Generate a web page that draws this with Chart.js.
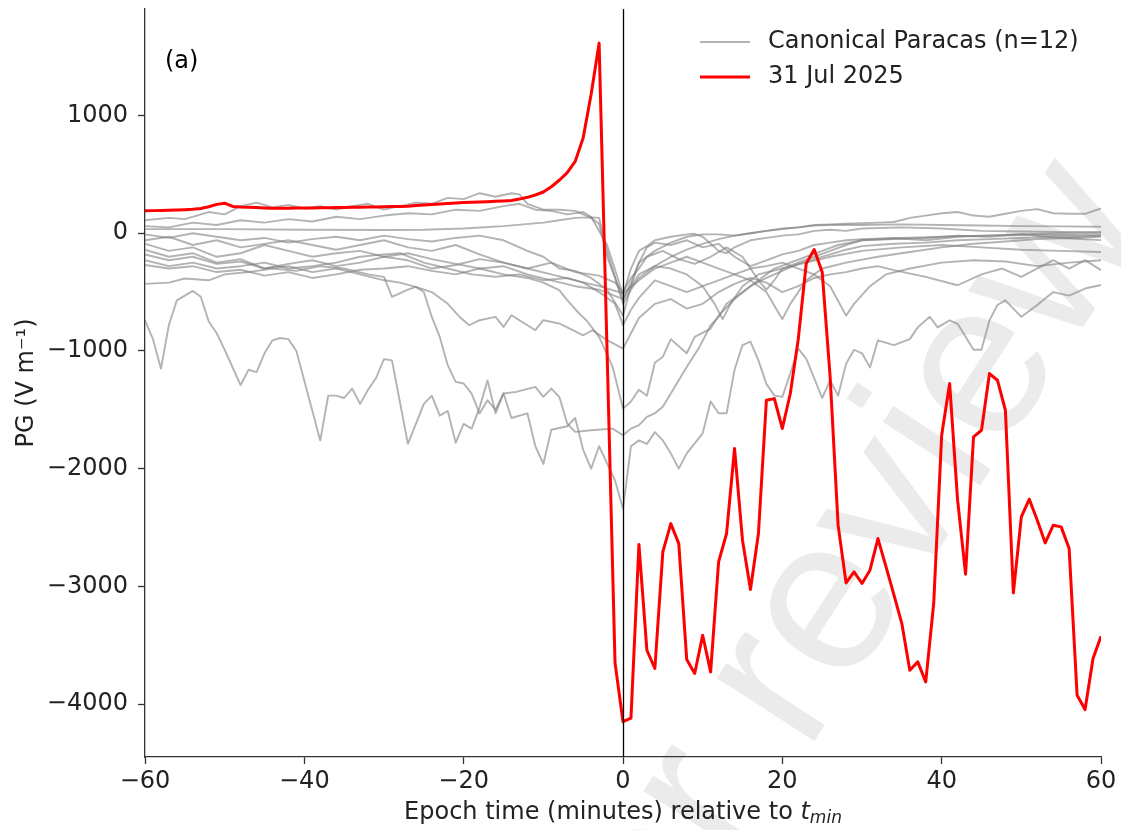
<!DOCTYPE html>
<html>
<head>
<meta charset="utf-8">
<script src="https://cdn.jsdelivr.net/npm/chart.js@4.4.1/dist/chart.umd.min.js"></script>
<style>
  html, body { margin: 0; padding: 0; background: #fff; }
  canvas { display: block; }
</style>
</head>
<body>
<canvas id="pgChart" width="1121" height="830"></canvas>
<script>
// axis ticks
const xTicks = [-60, -40, -20, 0, 20, 40, 60];
const yTicks = [-4000, -3000, -2000, -1000, 0, 1000];

// 31 Jul 2025 event, one value per minute from -60 to 60
const redTime = Array.from({ length: 121 }, (_, i) => i - 60);
const redPG = [
  190, 192, 193, 195, 198, 200, 203, 210, 225, 245,
  255, 228, 222, 220, 218, 215, 212, 212, 213, 214,
  215, 215, 216, 217, 218, 218, 220, 221, 222, 223,
  224, 226, 228, 230, 235, 240, 245, 248, 252, 256,
  260, 263, 266, 268, 271, 274, 278, 290, 305, 325,
  350, 395, 450, 515, 610, 810, 1180, 1615, -1000, -3650,
  -4150, -4120, -2645, -3543, -3698, -2708, -2467, -2637, -3622, -3741,
  -3416, -3727, -2793, -2551, -1829, -2608, -3027, -2551, -1419, -1405,
  -1659, -1362, -900, -257, -139, -329, -1221, -2480, -2971, -2877,
  -2976, -2863, -2594, -2830, -3070, -3316, -3713, -3642, -3812, -3146,
  -1716, -1277, -2268, -2897, -1730, -1674, -1192, -1249, -1504, -3056,
  -2410, -2260, -2438, -2631, -2481, -2495, -2679, -3925, -4047, -3613, -3424
];

// canonical Paracas events, [minute, PG]
const grayA = [[-60,-740],[-59,-900],[-58,-1150],[-57,-780],[-56,-570],[-54,-490],[-53,-540],[-52,-750],[-51,-850],[-50,-990],[-48,-1290],[-47,-1160],[-46,-1180],[-45,-1020],[-44,-910],[-43,-890],[-42,-900],[-41,-1000],[-38,-1760],[-37,-1380],[-36,-1380],[-35,-1400],[-34,-1320],[-33,-1450],[-32,-1330],[-31,-1230],[-30,-1070],[-29,-1080],[-27,-1790],[-25,-1450],[-24,-1380],[-23,-1550],[-22,-1510],[-21,-1780],[-20,-1620],[-19,-1660],[-18,-1480],[-17,-1250],[-16,-1530],[-15,-1360],[-14,-1570],[-12,-1530],[-11,-1810],[-10,-1960],[-9,-1670],[-7,-1640],[-6,-1570],[-5,-1840],[-4,-2000],[-3,-1810],[-1,-2100],[0,-2340],[1,-1810],[2,-1760],[3,-1790],[4,-1690],[5,-1760],[6,-1870],[7,-2000],[8,-1870],[10,-1700],[11,-1430],[12,-1530],[13,-1530],[14,-1160],[15,-950],[16,-920],[17,-1080],[18,-1280],[19,-1380],[20,-1390],[21,-1190],[22,-980],[23,-1065],[25,-1400],[26,-1250],[27,-1380],[28,-1110],[29,-990],[30,-1020],[31,-1140],[32,-910],[34,-950],[36,-900],[37,-800],[38.5,-710],[39.5,-800],[41,-740],[42,-770],[44,-990],[45,-990],[46,-740],[47,-610],[48,-570],[50,-710],[52,-610],[54,-500],[56,-530],[58,-470],[60,-440]];
const grayB = [[-60,-180],[-57,-230],[-54,-200],[-51,-260],[-48,-240],[-45,-300],[-42,-280],[-39,-330],[-36,-300],[-33,-350],[-30,-400],[-28,-420],[-26,-456],[-25,-499],[-24,-711],[-23,-881],[-22,-1121],[-21,-1263],[-20,-1277],[-19,-1362],[-18,-1532],[-17,-1420],[-16,-1500],[-15,-1362],[-13.4,-1348],[-11,-1306],[-10,-1390],[-9,-1320],[-8,-1390],[-7,-1617],[-6,-1688],[-4,-1674],[-1.3,-1660],[0,-1716],[1,-1660],[2,-1630],[3,-1560],[4,-1530],[5,-1475],[6,-1362],[8,-1136],[9.6,-966],[11,-782],[12,-711],[13,-600],[15,-500],[17,-400],[19,-300],[21,-250],[23,-200],[25,-150],[27,-100],[30,-60],[35,-40],[40,-30],[45,-20],[50,-10],[55,0],[60,0]];
const grayC = [[-60,-270],[-57,-300],[-54,-280],[-51,-330],[-48,-310],[-45,-360],[-42,-330],[-39,-380],[-36,-350],[-33,-310],[-30,-300],[-27,-280],[-24,-320],[-21,-350],[-18,-300],[-15,-350],[-12,-380],[-10,-420],[-8,-484],[-7,-569],[-5.5,-682],[-4.6,-739],[-3,-881],[-1.3,-1136],[0,-1490],[1,-1430],[2,-1330],[3,-1380],[4,-1100],[5,-1050],[6,-900],[7,-960],[8,-1020],[9,-880],[11,-810],[12,-700],[14,-560],[16,-450],[18,-380],[20,-320],[22,-260],[24,-220],[26,-180],[28,-140],[30,-110],[34,-90],[38,-80],[42,-60],[46,-50],[50,-40],[54,-30],[57,-30],[60,-20]];
const grayD = [[-60,-430],[-57,-420],[-55,-385],[-52,-400],[-50,-350],[-47,-330],[-44,-300],[-41,-320],[-38,-280],[-35,-300],[-32,-350],[-30,-371],[-29,-541],[-27,-480],[-26,-456],[-24,-500],[-22,-600],[-20.5,-711],[-19.3,-782],[-18,-739],[-16,-711],[-15,-796],[-14,-697],[-13,-739],[-11,-824],[-10,-739],[-8,-767],[-6.3,-824],[-5,-867],[-3.8,-824],[-2,-909],[0,-980],[1,-850],[2,-720],[4,-600],[6,-560],[8,-640],[10,-600],[12,-500],[14,-430],[16,-380],[18,-420],[20,-500],[22,-450],[24,-380],[26,-350],[28,-330],[30,-300],[32,-280],[34,-314],[38,-371],[42,-442],[45,-350],[47.6,-300],[50,-371],[54,-229],[56,-300],[58,-229],[60,-314]];
const grayE = [[-60,110],[-57,130],[-55,120],[-52,180],[-50,160],[-48,230],[-46,260],[-44,220],[-42,240],[-40,210],[-38,230],[-36,200],[-34,230],[-32,250],[-30,200],[-28,230],[-26,260],[-24,250],[-22,300],[-20,290],[-18,340],[-16,310],[-14,340],[-13,330],[-12,250],[-10,200],[-8,200],[-6,190],[-4,130],[-3,80],[-2,-200],[0,-560],[1,-420],[2,-250],[4,-150],[6,-80],[8,-30],[10,-10],[12,-10],[14,-20],[16,0],[18,20],[20,40],[22,50],[24,70],[26,75],[28,80],[30,85],[32,90],[34,95],[36,130],[38,150],[40,170],[42,180],[44,150],[46,140],[48,165],[50,190],[52,205],[54,170],[56,165],[58,165],[60,210]];
const grayF = [[-60,60],[-57,50],[-54,90],[-51,70],[-48,110],[-45,90],[-42,120],[-39,100],[-36,140],[-33,120],[-30,150],[-27,170],[-24,160],[-21,200],[-18,190],[-15,230],[-13,250],[-11,200],[-9,190],[-7,160],[-5,180],[-4,140],[-2,-100],[0,-520],[1,-300],[2,-150],[3,-110],[4,-60],[6,-30],[8,-10],[9,-5],[10,-30],[11,-90],[12,-150],[13,-170],[14,-120],[16,-60],[18,-40],[20,-20],[22,-10],[24,20],[26,30],[28,20],[30,40],[35,50],[40,40],[45,20],[50,15],[55,10],[60,11]];
const grayG = [[-60,35],[-50,35],[-40,30],[-30,28],[-25,30],[-20,40],[-15,60],[-10,90],[-8,110],[-6,130],[-4,135],[-3,130],[-2,-150],[0,-600],[1,-480],[2,-380],[4,-280],[6,-200],[8,-140],[10,-90],[12,-50],[14,-20],[16,0],[18,20],[20,35],[22,50],[24,65],[26,70],[28,72],[30,70],[35,75],[40,70],[45,65],[50,60],[55,58],[60,55]];
const grayH = [[-60,-10],[-57,-40],[-54,0],[-51,-30],[-48,-60],[-45,-40],[-42,-80],[-39,-50],[-36,-30],[-33,-60],[-30,-20],[-27,-50],[-24,-70],[-21,-40],[-18,-20],[-15,-60],[-12,-150],[-10,-200],[-8,-300],[-6,-320],[-4,-380],[-2,-480],[0,-700],[1,-450],[2,-250],[3,-120],[4,-80],[6,-100],[8,-60],[10,-120],[12,-90],[14,-200],[16,-280],[18,-230],[20,-180],[22,-150],[24,-100],[26,-80],[28,-60],[30,-50],[34,-40],[38,-60],[42,-30],[46,-20],[50,-10],[55,-15],[60,-17]];
const grayI = [[-60,-60],[-57,-30],[-54,-100],[-51,-60],[-48,-120],[-45,-90],[-42,-60],[-39,-100],[-36,-140],[-33,-100],[-30,-60],[-27,-120],[-24,-150],[-21,-100],[-18,-180],[-15,-250],[-12,-300],[-9,-250],[-6,-330],[-3,-360],[-1,-420],[0,-500],[1,-380],[2,-300],[3,-200],[5,-150],[7,-220],[9,-260],[11,-200],[13,-120],[15,-200],[16,-300],[17,-400],[18,-480],[19,-400],[20,-300],[22,-250],[24,-200],[26,-150],[28,-100],[30,-60],[34,-50],[38,-40],[42,-20],[46,-30],[50,-10],[55,-40],[60,-59]];
const grayJ = [[-60,-90],[-57,-150],[-54,-120],[-51,-200],[-48,-170],[-45,-100],[-42,-150],[-39,-200],[-36,-170],[-33,-150],[-30,-200],[-27,-170],[-24,-220],[-21,-260],[-18,-300],[-15,-280],[-12,-350],[-9,-400],[-6,-450],[-3,-480],[0,-560],[2,-350],[4,-280],[6,-300],[8,-350],[10,-450],[11.5,-600],[12.5,-730],[13.5,-600],[15,-450],[17,-350],[20,-300],[23,-250],[26,-200],[30,-150],[35,-120],[40,-100],[45,-120],[50,-140],[55,-150],[60,-159]];
const grayK = [[-60,-140],[-57,-200],[-54,-170],[-51,-250],[-48,-220],[-45,-300],[-42,-260],[-39,-230],[-36,-280],[-33,-250],[-30,-200],[-27,-230],[-24,-300],[-21,-270],[-18,-220],[-15,-250],[-12,-300],[-9,-350],[-6,-400],[-3,-450],[0,-510],[2,-400],[4,-300],[6,-250],[8,-200],[10,-250],[12,-300],[14,-350],[16,-400],[18,-500],[20,-730],[21,-600],[23,-400],[25,-300],[28,-250],[32,-200],[36,-160],[40,-120],[44,-90],[48,-70],[52,-50],[56,-40],[60,-30]];
const grayL = [[-60,-230],[-57,-280],[-54,-250],[-51,-300],[-48,-280],[-45,-250],[-42,-300],[-39,-280],[-36,-250],[-33,-200],[-30,-180],[-28,-170],[-25,-250],[-22,-300],[-19,-350],[-16,-370],[-13,-350],[-10,-400],[-7,-380],[-5,-420],[-3,-500],[-1,-600],[0,-780],[1,-650],[2,-550],[4,-400],[6,-450],[8,-500],[10,-450],[12,-400],[14,-350],[16,-300],[18,-280],[20,-250],[22,-300],[24,-350],[26,-450],[28,-700],[29,-600],[31,-450],[33,-350],[36,-300],[40,-250],[44,-230],[48,-240],[52,-280],[56,-250],[60,-229]];

const graySeries = [grayA, grayB, grayC, grayD, grayE, grayF, grayG, grayH, grayI, grayJ, grayK, grayL];

const FONT = "'DejaVu Sans', sans-serif";
const FS = 24;
const GRAY = 'rgba(128,128,128,0.6)';
const RED = '#ff0000';

function minusFmt(v) {
  return v < 0 ? '\u2212' + Math.abs(v) : String(v);
}

const datasets = [{
  label: '31 Jul 2025',
  data: redTime.map((t, i) => ({ x: t, y: redPG[i] })),
  borderColor: RED,
  borderWidth: 3,
  pointRadius: 0,
  tension: 0,
  borderJoinStyle: 'round',
  order: 0
}];
graySeries.forEach((s, k) => {
  datasets.push({
    label: 'Canonical Paracas ' + (k + 1),
    data: s.map(p => ({ x: p[0], y: p[1] })),
    borderColor: GRAY,
    borderWidth: 1.9,
    pointRadius: 0,
    tension: 0,
    borderJoinStyle: 'round',
    order: 1
  });
});

// background, watermark, titles, legend, zero line
const decor = {
  id: 'decor',
  beforeDraw(chart) {
    const c = chart.ctx;
    c.save();
    c.fillStyle = '#fff';
    c.fillRect(0, 0, chart.width, chart.height);
    c.translate(755, 721);
    c.rotate(-57 * Math.PI / 180);
    c.font = "220px 'Liberation Sans', sans-serif";
    c.fillStyle = 'rgba(0,0,0,0.08)';
    c.textBaseline = 'middle';
    c.textAlign = 'right';
    c.fillText('Under ', 0, 0);
    c.textAlign = 'left';
    c.fillText('review', 0, 0);
    c.restore();
  },
  afterDatasetsDraw(chart) {
    const c = chart.ctx;
    const xs = chart.scales.x;
    const a = chart.chartArea;
    const x0 = Math.round(xs.getPixelForValue(0)) + 0.5;
    c.save();
    c.strokeStyle = '#000';
    c.lineWidth = 1.3;
    c.beginPath();
    c.moveTo(x0, a.top);
    c.lineTo(x0, a.bottom);
    c.stroke();
    c.restore();
  },
  afterDraw(chart) {
    const c = chart.ctx;
    const a = chart.chartArea;
    c.save();
    c.fillStyle = '#000';
    c.font = FS + 'px ' + FONT;
    c.textBaseline = 'middle';

    // panel tag
    c.textAlign = 'left';
    c.fillText('(a)', 165, 62);

    // legend
    c.lineWidth = 1.9;
    c.strokeStyle = GRAY;
    c.beginPath(); c.moveTo(700, 42); c.lineTo(750, 42); c.stroke();
    c.lineWidth = 3;
    c.strokeStyle = RED;
    c.beginPath(); c.moveTo(700, 77); c.lineTo(750, 77); c.stroke();
    c.fillStyle = '#222';
    c.fillText('Canonical Paracas (n=12)', 768, 42);
    c.fillText('31 Jul 2025', 768, 77);

    // x title with italic subscript
    const main = 'Epoch time (minutes) relative to ';
    c.font = FS + 'px ' + FONT;
    const w1 = c.measureText(main).width;
    c.font = 'italic ' + FS + 'px ' + FONT;
    const w2 = c.measureText('t').width;
    c.font = 'italic 17px ' + FONT;
    const w3 = c.measureText('min').width;
    const cx = (a.left + a.right) / 2;
    let x = cx - (w1 + w2 + w3) / 2;
    c.font = FS + 'px ' + FONT;
    c.fillText(main, x, 813);
    x += w1;
    c.font = 'italic ' + FS + 'px ' + FONT;
    c.fillText('t', x, 813);
    x += w2;
    c.font = 'italic 17px ' + FONT;
    c.fillText('min', x, 819);

    // y title
    c.translate(27, (a.top + a.bottom) / 2);
    c.rotate(-Math.PI / 2);
    c.textAlign = 'center';
    c.font = FS + 'px ' + FONT;
    c.fillText('PG (V m\u207B\u00B9)', 0, 0);
    c.restore();
  }
};

new Chart(document.getElementById('pgChart').getContext('2d'), {
  type: 'line',
  data: { datasets: datasets },
  options: {
    responsive: false,
    animation: false,
    layout: { padding: { left: 0, top: 9, right: 20, bottom: 0 } },
    plugins: {
      legend: { display: false },
      tooltip: { enabled: false },
      title: { display: false }
    },
    scales: {
      x: {
        type: 'linear',
        min: -60,
        max: 60,
        afterBuildTicks: axis => { axis.ticks = xTicks.map(v => ({ value: v })); },
        afterFit: scale => { scale.height = 73; scale.paddingLeft = 0; scale.paddingRight = 0; },
        grid: { drawOnChartArea: false, drawTicks: true, tickLength: 7, tickColor: '#333', tickWidth: 1.3 },
        border: { display: true, color: '#333', width: 1.3 },
        ticks: {
          font: { family: FONT, size: FS },
          color: '#222',
          padding: 3,
          maxRotation: 0,
          callback: v => minusFmt(v)
        }
      },
      y: {
        type: 'linear',
        min: -4450,
        max: 1905,
        afterBuildTicks: axis => { axis.ticks = yTicks.map(v => ({ value: v })); },
        afterFit: scale => { scale.width = 145; scale.paddingTop = 0; scale.paddingBottom = 0; },
        grid: { drawOnChartArea: false, drawTicks: true, tickLength: 7, tickColor: '#333', tickWidth: 1.3 },
        border: { display: true, color: '#333', width: 1.3 },
        ticks: {
          font: { family: FONT, size: FS },
          color: '#222',
          padding: 10,
          callback: v => minusFmt(v)
        }
      }
    }
  },
  plugins: [decor]
});
</script>
</body>
</html>
